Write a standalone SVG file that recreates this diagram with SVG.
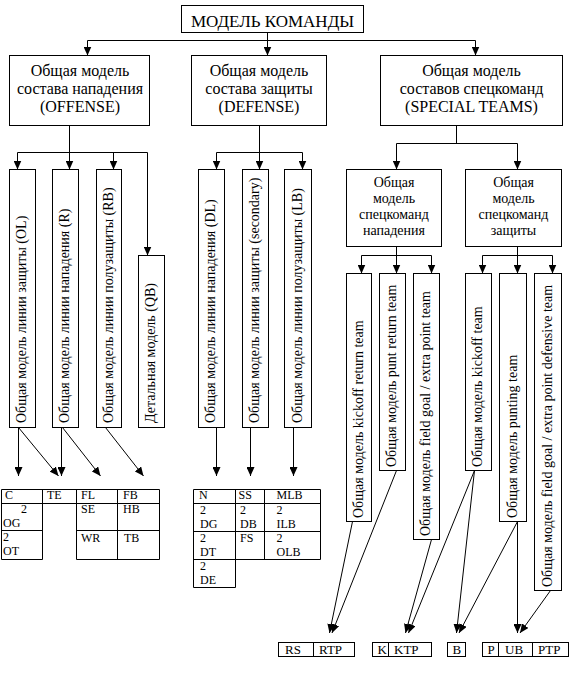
<svg xmlns="http://www.w3.org/2000/svg" width="570" height="674" viewBox="0 0 570 674">
<style>
  .bx { fill: #fff; stroke: #000; stroke-width: 1; }
  .ln { fill: none; stroke: #000; stroke-width: 1; }
  .ar { fill: none; stroke: #000; stroke-width: 1; marker-end: url(#ah); }
  text { font-family: "Liberation Serif", "Times New Roman", serif; fill: #000; }
  .t17 { font-size: 17px; text-anchor: middle; }
  .t16 { font-size: 16px; text-anchor: middle; }
  .t14c { font-size: 14px; text-anchor: middle; }
  .v14 { font-size: 14px; }
  .t13 { font-size: 12px; }
  .t13b { font-size: 13px; }
</style>
<defs>
  <marker id="ah" viewBox="0 0 9 8" refX="9" refY="4" markerUnits="userSpaceOnUse" markerWidth="9" markerHeight="8" orient="auto">
    <path d="M0,0 L9,4 L0,8 z" fill="#000"/>
  </marker>
</defs>
<rect width="570" height="674" fill="#fff"/>

<g id="connectors">
  <line class="ln" x1="267.5" y1="32.5" x2="267.5" y2="40.5"/>
  <line class="ln" x1="87.5" y1="40.5" x2="475.5" y2="40.5"/>
  <line class="ar" x1="87.5" y1="40.5" x2="87.5" y2="55.5"/>
  <line class="ar" x1="267.5" y1="40.5" x2="267.5" y2="55.5"/>
  <line class="ar" x1="475.5" y1="40.5" x2="475.5" y2="55.5"/>

  <line class="ln" x1="69.5" y1="125.5" x2="69.5" y2="152.5"/>
  <line class="ln" x1="17.5" y1="152.5" x2="147.5" y2="152.5"/>
  <line class="ar" x1="17.5" y1="152.5" x2="17.5" y2="169.5"/>
  <line class="ar" x1="69.5" y1="152.5" x2="69.5" y2="169.5"/>
  <line class="ar" x1="113.5" y1="152.5" x2="113.5" y2="169.5"/>
  <line class="ar" x1="147.5" y1="152.5" x2="147.5" y2="255.5"/>

  <line class="ln" x1="259.5" y1="125.5" x2="259.5" y2="152.5"/>
  <line class="ln" x1="216.5" y1="152.5" x2="302.5" y2="152.5"/>
  <line class="ar" x1="216.5" y1="152.5" x2="216.5" y2="169.5"/>
  <line class="ar" x1="259.5" y1="152.5" x2="259.5" y2="169.5"/>
  <line class="ar" x1="302.5" y1="152.5" x2="302.5" y2="169.5"/>

  <line class="ln" x1="456.5" y1="125.5" x2="456.5" y2="143.5"/>
  <line class="ln" x1="396.5" y1="143.5" x2="517.5" y2="143.5"/>
  <line class="ar" x1="396.5" y1="143.5" x2="396.5" y2="169.5"/>
  <line class="ar" x1="517.5" y1="143.5" x2="517.5" y2="169.5"/>

  <line class="ln" x1="396.5" y1="246.5" x2="396.5" y2="255.5"/>
  <line class="ln" x1="361.5" y1="255.5" x2="431.5" y2="255.5"/>
  <line class="ar" x1="361.5" y1="255.5" x2="361.5" y2="273.5"/>
  <line class="ar" x1="396.5" y1="255.5" x2="396.5" y2="273.5"/>
  <line class="ar" x1="431.5" y1="255.5" x2="431.5" y2="273.5"/>

  <line class="ln" x1="517.5" y1="246.5" x2="517.5" y2="255.5"/>
  <line class="ln" x1="482.5" y1="255.5" x2="552.5" y2="255.5"/>
  <line class="ar" x1="482.5" y1="255.5" x2="482.5" y2="273.5"/>
  <line class="ar" x1="517.5" y1="255.5" x2="517.5" y2="273.5"/>
  <line class="ar" x1="552.5" y1="255.5" x2="552.5" y2="273.5"/>

  <line class="ar" x1="18.5" y1="427.5" x2="18.5" y2="476"/>
  <line class="ar" x1="18.5" y1="427.5" x2="58.5" y2="476"/>
  <line class="ar" x1="61.5" y1="427.5" x2="61.5" y2="476"/>
  <line class="ar" x1="62.5" y1="427.5" x2="100.5" y2="476"/>
  <line class="ar" x1="105.5" y1="427.5" x2="143.5" y2="476"/>

  <line class="ar" x1="216.5" y1="427.5" x2="216.5" y2="476"/>
  <line class="ar" x1="250.5" y1="427.5" x2="250.5" y2="476"/>
  <line class="ar" x1="293.5" y1="427.5" x2="293.5" y2="476"/>

  <line class="ar" x1="352.5" y1="521.5" x2="329.5" y2="633"/>
  <line class="ar" x1="396.5" y1="470.5" x2="332" y2="633"/>
  <line class="ar" x1="431.5" y1="539.5" x2="405.5" y2="633"/>
  <line class="ar" x1="474.5" y1="470.5" x2="408.5" y2="633"/>
  <line class="ar" x1="474.5" y1="470.5" x2="456.5" y2="633"/>
  <line class="ar" x1="517.5" y1="521.5" x2="459" y2="633"/>
  <line class="ar" x1="517.5" y1="521.5" x2="517.5" y2="633"/>
  <line class="ar" x1="550.5" y1="590.5" x2="520" y2="633"/>
</g>

<g id="n-title">
  <rect class="bx" x="181.5" y="5.5" width="182" height="27"/>
  <text class="t17" x="272.5" y="26.5">МОДЕЛЬ КОМАНДЫ</text>
</g>

<g id="n-offense">
  <rect class="bx" x="9.5" y="55.5" width="140" height="70"/>
  <text class="t16" x="80" y="76">Общая модель</text>
  <text class="t16" x="80" y="94">состава нападения</text>
  <text class="t16" x="80" y="112">(OFFENSE)</text>
</g>
<g id="n-defense">
  <rect class="bx" x="191.5" y="55.5" width="135" height="70"/>
  <text class="t16" x="259" y="76">Общая модель</text>
  <text class="t16" x="259" y="94">состава защиты</text>
  <text class="t16" x="259" y="112">(DEFENSE)</text>
</g>
<g id="n-special">
  <rect class="bx" x="380.5" y="55.5" width="182" height="70"/>
  <text class="t16" x="471.5" y="76">Общая модель</text>
  <text class="t16" x="471.5" y="94">составов спецкоманд</text>
  <text class="t16" x="471.5" y="112">(SPECIAL TEAMS)</text>
</g>

<g id="n-ol">
  <rect class="bx" x="9.5" y="169.5" width="26" height="258"/>
  <text class="v14" transform="translate(26,423) rotate(-90)">Общая модель линии защиты (OL)</text>
</g>
<g id="n-r">
  <rect class="bx" x="52.5" y="169.5" width="26" height="258"/>
  <text class="v14" transform="translate(69,423) rotate(-90)">Общая модель линии нападения (R)</text>
</g>
<g id="n-rb">
  <rect class="bx" x="96.5" y="169.5" width="25" height="258"/>
  <text class="v14" transform="translate(112.5,423) rotate(-90)">Общая модель линии полузащиты (RB)</text>
</g>
<g id="n-qb">
  <rect class="bx" x="138.5" y="255.5" width="26" height="172"/>
  <text class="v14" transform="translate(155,423) rotate(-90)">Детальная модель (QB)</text>
</g>

<g id="n-dl">
  <rect class="bx" x="198.5" y="169.5" width="26" height="258"/>
  <text class="v14" transform="translate(215,423) rotate(-90)">Общая модель линии нападения (DL)</text>
</g>
<g id="n-sec">
  <rect class="bx" x="242.5" y="169.5" width="26" height="258"/>
  <text class="v14" transform="translate(259,423) rotate(-90)">Общая модель линии защиты (secondary)</text>
</g>
<g id="n-lb">
  <rect class="bx" x="284.5" y="169.5" width="27" height="258"/>
  <text class="v14" transform="translate(301.5,423) rotate(-90)">Общая модель линии полузащиты (LB)</text>
</g>

<g id="n-st-off">
  <rect class="bx" x="346.5" y="169.5" width="95" height="77"/>
  <text class="t14c" x="394" y="187">Общая</text>
  <text class="t14c" x="394" y="203">модель</text>
  <text class="t14c" x="394" y="219">спецкоманд</text>
  <text class="t14c" x="394" y="235">нападения</text>
</g>
<g id="n-st-def">
  <rect class="bx" x="465.5" y="169.5" width="96" height="77"/>
  <text class="t14c" x="513.5" y="187">Общая</text>
  <text class="t14c" x="513.5" y="203">модель</text>
  <text class="t14c" x="513.5" y="219">спецкоманд</text>
  <text class="t14c" x="513.5" y="235">защиты</text>
</g>

<g id="n-kr">
  <rect class="bx" x="346.5" y="273.5" width="25" height="248"/>
  <text class="v14" transform="translate(362.5,518) rotate(-90)">Общая модель kickoff return team</text>
</g>
<g id="n-pr">
  <rect class="bx" x="379.5" y="273.5" width="26" height="197"/>
  <text class="v14" transform="translate(396,467) rotate(-90)">Общая модель punt return team</text>
</g>
<g id="n-fg">
  <rect class="bx" x="413.5" y="273.5" width="26" height="266"/>
  <text class="v14" transform="translate(430,536) rotate(-90)">Общая модель field goal / extra point team</text>
</g>
<g id="n-ko">
  <rect class="bx" x="465.5" y="273.5" width="26" height="197"/>
  <text class="v14" transform="translate(482,467) rotate(-90)">Общая модель kickoff team</text>
</g>
<g id="n-pt">
  <rect class="bx" x="499.5" y="273.5" width="27" height="248"/>
  <text class="v14" transform="translate(516.5,518) rotate(-90)">Общая модель punting team</text>
</g>
<g id="n-fgd">
  <rect class="bx" x="534.5" y="273.5" width="27" height="317"/>
  <text class="v14" transform="translate(551.5,587) rotate(-90)">Общая модель field goal / extra point defensive team</text>
</g>

<g id="t-offense">
  <path class="ln" d="M1.5,489.5 H159.5 M1.5,503.5 H159.5 M1.5,530.5 H42.5 M76.5,530.5 H159.5 M1.5,559.5 H42.5 M76.5,559.5 H159.5 M1.5,489.5 V559.5 M42.5,489.5 V559.5 M76.5,489.5 V559.5 M117.5,489.5 V559.5 M159.5,489.5 V559.5"/>
  <text class="t13" x="5" y="499">C</text>
  <text class="t13" x="47" y="499">TE</text>
  <text class="t13" x="81" y="499">FL</text>
  <text class="t13" x="123" y="499">FB</text>
  <text class="t13" x="21" y="513">2</text>
  <text class="t13" x="3" y="527">OG</text>
  <text class="t13" x="81" y="513">SE</text>
  <text class="t13" x="123" y="513">HB</text>
  <text class="t13" x="3" y="541">2</text>
  <text class="t13" x="3" y="555">OT</text>
  <text class="t13" x="81" y="542">WR</text>
  <text class="t13" x="124" y="542">TB</text>
</g>

<g id="t-defense">
  <path class="ln" d="M193.5,489.5 H320.5 M193.5,503.5 H320.5 M193.5,531.5 H320.5 M193.5,559.5 H320.5 M193.5,587.5 H235.5 M193.5,489.5 V587.5 M235.5,489.5 V587.5 M264.5,489.5 V559.5 M320.5,489.5 V559.5"/>
  <text class="t13" x="199" y="499">N</text>
  <text class="t13" x="238.5" y="499">SS</text>
  <text class="t13" x="276.5" y="499">MLB</text>
  <text class="t13" x="200" y="514">2</text>
  <text class="t13" x="200" y="528">DG</text>
  <text class="t13" x="240" y="514">2</text>
  <text class="t13" x="240" y="528">DB</text>
  <text class="t13" x="276.5" y="514">2</text>
  <text class="t13" x="276.5" y="528">ILB</text>
  <text class="t13" x="200" y="542">2</text>
  <text class="t13" x="200" y="556">DT</text>
  <text class="t13" x="240" y="542">FS</text>
  <text class="t13" x="276.5" y="542">2</text>
  <text class="t13" x="276.5" y="556">OLB</text>
  <text class="t13" x="200" y="570">2</text>
  <text class="t13" x="200" y="584">DE</text>
</g>

<g id="t-return">
  <rect class="bx" x="278.5" y="642.5" width="76" height="14"/>
  <line class="ln" x1="313.5" y1="642.5" x2="313.5" y2="656.5"/>
  <text class="t13b" x="285" y="654">RS</text>
  <text class="t13b" x="319" y="654">RTP</text>
</g>
<g id="t-kick">
  <rect class="bx" x="372.5" y="642.5" width="59" height="14"/>
  <line class="ln" x1="388.5" y1="642.5" x2="388.5" y2="656.5"/>
  <text class="t13b" x="377.5" y="654">K</text>
  <text class="t13b" x="394" y="654">KTP</text>
</g>
<g id="t-b">
  <rect class="bx" x="447.5" y="642.5" width="18" height="14"/>
  <text class="t13b" x="452.5" y="654">B</text>
</g>
<g id="t-punt">
  <rect class="bx" x="482.5" y="642.5" width="86" height="14"/>
  <line class="ln" x1="498.5" y1="642.5" x2="498.5" y2="656.5"/>
  <line class="ln" x1="532.5" y1="642.5" x2="532.5" y2="656.5"/>
  <text class="t13b" x="487.5" y="654">P</text>
  <text class="t13b" x="505" y="654">UB</text>
  <text class="t13b" x="538" y="654">PTP</text>
</g>
</svg>
